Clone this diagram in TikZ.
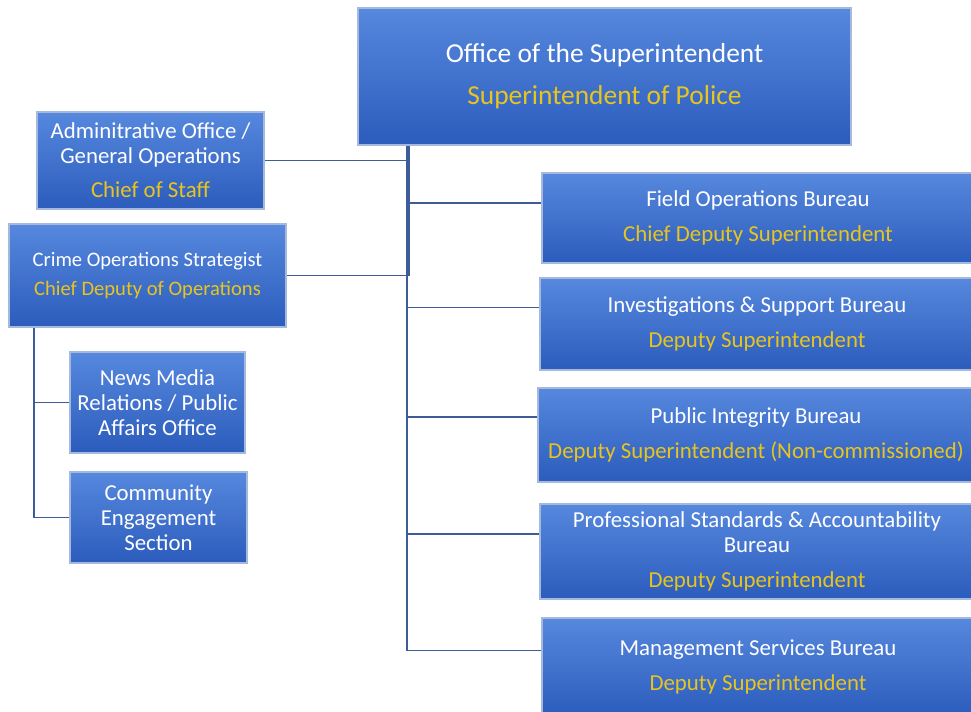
\documentclass[tikz,border=0pt]{standalone}
\usepackage{fontspec}
\setmainfont{Carlito}
\definecolor{boxtop}{RGB}{86,136,222}
\definecolor{boxbot}{RGB}{44,92,188}
\definecolor{boxrim}{RGB}{165,185,220}
\definecolor{gold}{RGB}{232,196,30}
\definecolor{wire}{RGB}{62,92,152}
\tikzset{
	unit/.style={draw=boxrim,line width=1pt,top color=boxtop,bottom color=boxbot,text=white,align=center,inner sep=0pt,font=\fontsize{13}{14.2}\selectfont},
	link/.style={draw=wire,line width=1.1pt},
}
\newcommand{\rank}[1]{\textcolor{gold}{#1}}
\begin{document}
\begin{tikzpicture}[x=0.02cm,y=-0.02cm]
	\useasboundingbox (0,0) rectangle (971,712);
	% head office
	\node (top) at (604.5,76.5) [unit,minimum width=9.86cm,minimum height=2.74cm,font=\fontsize{15.6}{17}\selectfont]{Office of the Superintendent\\[6.8pt]\rank{Superintendent of Police}};
	% left side
	\node (admin) at (150.5,160.5) [unit,minimum width=4.54cm,minimum height=1.94cm]{Adminitrative Office /\\General Operations\\[5pt]\rank{Chief of Staff}};
	\node (crime) at (147.5,275.5) [unit,minimum width=5.54cm,minimum height=2.06cm,font=\fontsize{11.7}{13}\selectfont]{Crime Operations Strategist\\[4pt]\rank{Chief Deputy of Operations}};
	\node (news) at (157.5,402.5) [unit,minimum width=3.5cm,minimum height=2.02cm]{News Media\\Relations / Public\\Affairs Office};
	\node (comm) at (158.5,517.5) [unit,minimum width=3.54cm,minimum height=1.82cm]{Community\\Engagement\\Section};
	% bureaus
	\node (field) at (758,218) [unit,minimum width=8.64cm,minimum height=1.8cm]{Field Operations Bureau\\[5.6pt]\rank{Chief Deputy Superintendent}};
	\node (invest) at (757,324) [unit,minimum width=8.68cm,minimum height=1.84cm]{Investigations \& Support Bureau\\[5.6pt]\rank{Deputy Superintendent}};
	\node (public) at (756,435) [unit,minimum width=8.72cm,minimum height=1.88cm]{Public Integrity Bureau\\[5.6pt]\rank{Deputy Superintendent (Non-commissioned)}};
	\node (prof) at (757,551.5) [unit,minimum width=8.68cm,minimum height=1.9cm]{Professional Standards \& Accountability\\Bureau\\[5.6pt]\rank{Deputy Superintendent}};
	\node (mgmt) at (758,667) [unit,minimum width=8.64cm,minimum height=1.96cm]{Management Services Bureau\\[5.6pt]\rank{Deputy Superintendent}};
	% connectors
	\coordinate (tr) at ([xshift=1cm]top.south west);
	\coordinate (tl) at ([xshift=1.04cm]top.south west);
	\coordinate (cr) at ([xshift=0.52cm]crime.south west);
	\coordinate (fw) at ([yshift=0.3cm]field.west);
	\coordinate (iw) at ([yshift=0.33cm]invest.west);
	\coordinate (pw) at ([yshift=0.36cm]public.west);
	\coordinate (sw) at ([yshift=0.35cm]prof.west);
	\coordinate (mw) at ([yshift=0.33cm]mgmt.west);
	\draw[link] (tl) |- (crime.east);
	\draw[link] (tl |- admin.east) -- (admin.east);
	\draw[link] (tr) |- (mw);
	\draw[link] (tr |- fw) -- (fw);
	\draw[link] (tr |- iw) -- (iw);
	\draw[link] (tr |- pw) -- (pw);
	\draw[link] (tr |- sw) -- (sw);
	\draw[link] (cr) |- (comm.west);
	\draw[link] (cr |- news.west) -- (news.west);
\end{tikzpicture}
\end{document}
